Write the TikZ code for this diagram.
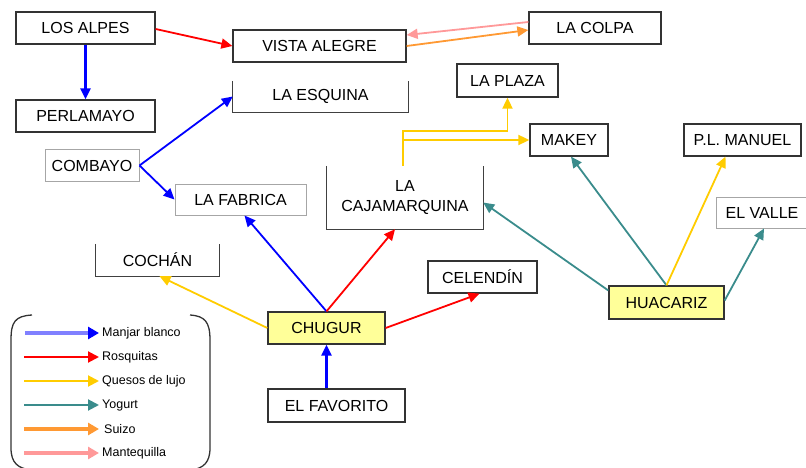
\documentclass[tikz,border=0pt]{standalone}
\usepackage{fontspec}
\setmainfont{Liberation Sans}
\usetikzlibrary{arrows.meta}
\definecolor{cblue}{HTML}{0000FF}
\definecolor{lblue}{HTML}{8080FF}
\definecolor{cred}{HTML}{FF0000}
\definecolor{cyel}{HTML}{FFCC00}
\definecolor{cteal}{HTML}{3A8C8C}
\definecolor{corange}{HTML}{FF9933}
\definecolor{cpink}{HTML}{FF9999}
\definecolor{hl}{HTML}{FFFF99}
\tikzset{
  box/.style={draw=black!80, line width=1.3pt, fill=white, inner sep=0pt, font=\fontsize{16}{18}\selectfont, align=center},
  lbox/.style={box, draw=black!35, line width=1pt},
  obox/.style={inner sep=0pt, font=\fontsize{16}{18}\selectfont, align=center},
  hbox/.style={box, fill=hl},
  arr/.style={line width=1.8pt, -{Triangle[length=11pt,width=10pt]}},
  varr/.style={arr, line width=2.2pt},
  legtxt/.style={anchor=west, font=\fontsize{12.5}{13}\selectfont, inner sep=0pt},
}
\begin{document}
\begin{tikzpicture}[x=1pt,y=-1pt]
\useasboundingbox (0,0) rectangle (806,468);
% nodes
\node[box, minimum width=139pt, minimum height=32pt] (alpes) at (85.5,28) {LOS ALPES};
\node[box, minimum width=173pt, minimum height=32pt] (vista) at (319.5,46) {VISTA ALEGRE};
\node[box, minimum width=132pt, minimum height=32pt] (colpa) at (595,28) {LA COLPA};
\node[box, minimum width=101pt, minimum height=33pt] (plaza) at (507.5,80.5) {LA PLAZA};
\node[obox, minimum width=175pt, minimum height=31pt] (esquina) at (320.5,96.5) {LA ESQUINA};
\draw[black!75, line width=1.3pt] (esquina.north west) -- (esquina.south west) -- (esquina.south east) -- (esquina.north east);
\node[box, minimum width=139pt, minimum height=32pt] (perla) at (85.5,116) {PERLAMAYO};
\node[lbox, minimum width=94pt, minimum height=31pt] (combayo) at (92,165.5) {COMBAYO};
\node[lbox, minimum width=131pt, minimum height=31pt] (fabrica) at (240.5,199.5) {LA FABRICA};
\node[obox, minimum width=123pt, minimum height=32pt] (cochan) at (157.5,260) {COCHÁN};
\draw[black!75, line width=1.3pt] (cochan.north west) -- (cochan.south west) -- (cochan.south east) -- (cochan.north east);
\node[obox, minimum width=156pt, minimum height=63pt] (caja) at (405,197.5) {LA\\[2pt]CAJAMARQUINA};
\draw[black!75, line width=1.3pt] (caja.north west) -- (caja.south west) -- (caja.south east) -- (caja.north east);
\node[box, minimum width=78pt, minimum height=32pt] (makey) at (569,140) {MAKEY};
\node[box, minimum width=117pt, minimum height=32pt] (manuel) at (742.5,140) {P.L. MANUEL};
\node[lbox, minimum width=92pt, minimum height=31pt] (valle) at (762,212.5) {EL VALLE};
\node[box, minimum width=109pt, minimum height=32pt] (celendin) at (482.5,277) {CELENDÍN};
\node[hbox, minimum width=117pt, minimum height=32pt] (chugur) at (326.5,328) {CHUGUR};
\node[hbox, minimum width=115pt, minimum height=33pt] (huaca) at (666.5,302.5) {HUACARIZ};
\node[box, minimum width=137pt, minimum height=33pt] (favor) at (336.5,405.5) {EL FAVORITO};
% connectors
\coordinate (alpesE) at ([yshift=-1pt]alpes.east);
\draw[arr, cred] (alpesE) -- (vista.west);
\draw[varr, cblue] (alpes.south) -- (perla.north);
\draw[arr, cpink] ([yshift=6pt]colpa.west) -- ([yshift=11pt]vista.east);
\draw[arr, corange] (vista.east) -- ([yshift=-2pt]colpa.west);
\coordinate (comb) at (combayo.east);
\draw[arr, cblue] (comb) -- (esquina.west);
\draw[arr, cblue] (comb) -- (fabrica.west);
\coordinate (chtop) at (chugur.north);
\draw[arr, cblue] (chtop) -- ([xshift=4pt]fabrica.south);
\draw[arr, cred] (chtop) -- ([xshift=-10pt]caja.south);
\draw[arr, cyel] (chugur.west) -- ([xshift=2pt]cochan.south);
\draw[arr, cred] (chugur.east) -- ([xshift=-3pt]celendin.south);
\draw[varr, cblue] ([xshift=-10pt]favor.north) -- (chugur.south);
\coordinate (cajtop) at ([xshift=-2pt]caja.north);
\draw[arr, cyel] (cajtop) -- (cajtop |- 0,131) -| (plaza.south);
\draw[arr, cyel] (cajtop |- makey.west) -- (makey.west);
\draw[arr, cteal] ([yshift=12pt]huaca.west) -- ([yshift=-5pt]caja.east);
\coordinate (htop) at (huaca.north);
\draw[arr, cteal] (htop) -- ([xshift=2pt]makey.south);
\draw[arr, cyel] (htop) -- ([xshift=-17pt]manuel.south);
\draw[arr, cteal] ([yshift=2pt]huaca.east) -- ([xshift=2pt]valle.south);
% legend
\draw[black!80, line width=1.3pt] (32,315) .. controls (15,316) and (11,322) .. (11,340) -- (11,448) .. controls (11,463) and (18,468) .. (30,470);
\draw[black!80, line width=1.3pt] (190,315) .. controls (205,316) and (210,322) .. (210,340) -- (210,448) .. controls (210,463) and (203,468) .. (192,470);
\node[legtxt] (l1) at (102,333) {Manjar blanco};
\node[legtxt] (l2) at (102,357) {Rosquitas};
\node[legtxt] (l3) at (102,381) {Quesos de lujo};
\node[legtxt] (l4) at (102,405) {Yogurt};
\node[legtxt] (l5) at (104,429) {Suizo};
\node[legtxt] (l6) at (102,453) {Mantequilla};
\coordinate (s1) at (25,333);
\coordinate (s2) at (24,357);
\coordinate (s3) at (24,381);
\coordinate (s4) at (24,405);
\coordinate (s5) at (24,429);
\coordinate (s6) at (24,453);
\draw[lblue, line width=3.5pt, -{Triangle[length=11pt,width=12pt,fill=cblue,color=cblue]}] (s1) -- ([xshift=-3pt]l1.west);
\draw[cred, line width=2pt, -{Triangle[length=11pt,width=11pt]}] (s2) -- ([xshift=-3pt]l2.west);
\draw[cyel, line width=2pt, -{Triangle[length=11pt,width=11pt]}] (s3) -- ([xshift=-3pt]l3.west);
\draw[cteal, line width=2pt, -{Triangle[length=11pt,width=11pt]}] (s4) -- ([xshift=-3pt]l4.west);
\draw[corange, line width=3.5pt, -{Triangle[length=11pt,width=12pt]}] (s5) -- ([xshift=-5pt]l5.west);
\draw[cpink, line width=3.5pt, -{Triangle[length=11pt,width=12pt]}] (s6) -- ([xshift=-3pt]l6.west);
\end{tikzpicture}
\end{document}
